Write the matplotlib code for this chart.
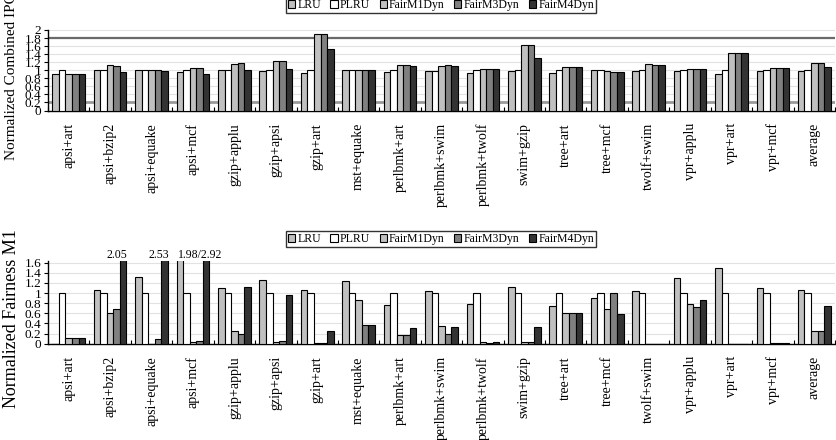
import matplotlib
matplotlib.use("Agg")
import matplotlib.pyplot as plt
import numpy as np
from matplotlib.patches import Patch

plt.rcParams['font.family'] = ['Liberation Serif', 'DejaVu Serif']

categories = ['apsi+art', 'apsi+bzip2', 'apsi+equake', 'apsi+mcf', 'gzip+applu',
              'gzip+apsi', 'gzip+art', 'mst+equake', 'perlbmk+art', 'perlbmk+swim',
              'perlbmk+twolf', 'swim+gzip', 'tree+art', 'tree+mcf', 'twolf+swim',
              'vpr+applu', 'vpr+art', 'vpr+mcf', 'average']
series = ['LRU', 'PLRU', 'FairM1Dyn', 'FairM3Dyn', 'FairM4Dyn']
colors = ['#c0c0c0', '#ffffff', '#c0c0c0', '#808080', '#333333']

# Normalized Combined IPC
lru_ipc  = [0.90, 1.00, 1.00, 0.95, 1.00, 0.97, 0.92, 1.00, 0.95, 0.99, 0.93, 0.97, 0.93, 1.00, 0.99, 0.98, 0.90, 0.99, 0.97]
plru_ipc = [1.00, 1.00, 1.00, 1.00, 1.00, 1.00, 1.00, 1.00, 1.00, 0.99, 1.00, 1.00, 1.00, 1.00, 1.00, 1.00, 1.00, 1.00, 1.00]
m1_ipc   = [0.90, 1.13, 1.00, 1.05, 1.15, 1.23, 1.91, 1.00, 1.13, 1.10, 1.02, 1.62, 1.07, 0.97, 1.15, 1.04, 1.43, 1.05, 1.17]
m3_ipc   = [0.90, 1.11, 1.00, 1.05, 1.18, 1.22, 1.91, 1.00, 1.13, 1.13, 1.02, 1.62, 1.07, 0.95, 1.14, 1.04, 1.43, 1.05, 1.17]
m4_ipc   = [0.90, 0.95, 0.97, 0.91, 1.00, 1.04, 1.54, 1.00, 1.10, 1.10, 1.02, 1.30, 1.07, 0.96, 1.14, 1.03, 1.43, 1.05, 1.08]

# Normalized Fairness M1
lru_f  = [0.00, 1.06, 1.32, 1.98, 1.10, 1.26, 1.07, 1.24, 0.76, 1.05, 0.78, 1.13, 0.745, 0.895, 1.05, 1.30, 1.49, 1.11, 1.07]
plru_f = [1.00, 1.00, 1.00, 1.00, 1.00, 1.00, 1.00, 1.00, 1.00, 1.00, 1.00, 1.00, 1.00, 1.00, 1.00, 1.00, 1.00, 1.00, 1.00]
m1_f   = [0.105, 0.61, 0.00, 0.03, 0.245, 0.04, 0.01, 0.86, 0.17, 0.35, 0.025, 0.025, 0.60, 0.68, 0.00, 0.78, 0.00, 0.01, 0.255]
m3_f   = [0.105, 0.685, 0.09, 0.055, 0.20, 0.055, 0.01, 0.375, 0.17, 0.185, 0.01, 0.025, 0.60, 0.995, 0.00, 0.725, 0.00, 0.01, 0.245]
m4_f   = [0.105, 2.05, 2.53, 2.92, 1.12, 0.96, 0.245, 0.375, 0.32, 0.335, 0.025, 0.335, 0.60, 0.58, 0.00, 0.87, 0.00, 0.01, 0.745]

off_scale_idx = [1, 2, 3]
off_scale_txt = ['2.05', '2.53', '1.98/2.92']

ipc_ticks = [0, 0.2, 0.4, 0.6, 0.8, 1, 1.2, 1.4, 1.6, 1.8, 2]
ipc_ticklabels = ['0', '0.2', '0.4', '0.6', '0.8', '1', '1.2', '1.4', '1.6', '1.8', '2']
f_ticks = [0, 0.2, 0.4, 0.6, 0.8, 1, 1.2, 1.4, 1.6]
f_ticklabels = ['0', '0.2', '0.4', '0.6', '0.8', '1', '1.2', '1.4', '1.6']

W, H = 836, 440
fig = plt.figure(figsize=(W / 100, H / 100), dpi=100)

def px_axes(x0, y0, x1, y1):
    return fig.add_axes([x0 / W, 1 - y1 / H, (x1 - x0) / W, (y1 - y0) / H])

n = len(categories)
x = np.arange(n)
bw = 0.158

def draw(ax, data, ylim, ticks, ticklabels):
    for k, (vals, c) in enumerate(zip(data, colors)):
        ax.bar(x + (k - 2) * bw, vals, width=bw, color=c, edgecolor='black',
               linewidth=0.8, zorder=3, label=series[k])
    ax.set_xlim(-0.5, n - 0.5)
    ax.set_ylim(*ylim)
    ax.set_yticks(ticks)
    ax.set_yticklabels(ticklabels, fontsize=9.5)
    for t in ticks:
        ax.axhline(t, color='#e2e2e2', lw=0.8, zorder=0)
    ax.set_xticks(x)
    ax.set_xticklabels(categories, rotation=90, fontsize=10, va='top')
    ax.tick_params(axis='x', length=0, pad=9)
    ax.set_xticks(np.arange(n + 1) - 0.5, minor=True)
    ax.tick_params(axis='x', which='minor', direction='in', length=3, width=0.8)
    ax.tick_params(axis='y', direction='out', length=3, width=0.8, pad=2)
    for s in ['top', 'right']:
        ax.spines[s].set_visible(False)
    for s in ['left', 'bottom']:
        ax.spines[s].set_linewidth(1.0)

ax1 = px_axes(48, 30, 835, 110.5)
draw(ax1, [lru_ipc, plru_ipc, m1_ipc, m3_ipc, m4_ipc], (0, 2), ipc_ticks, ipc_ticklabels)
ax1.axhline(0.2, color='#9a9a9a', lw=2.0, zorder=1)
ax1.axhline(1.8, color='#6a6a6a', lw=1.6, zorder=2)

ax2 = px_axes(48, 261.2, 835, 343.7)
draw(ax2, [lru_f, plru_f, m1_f, m3_f, m4_f], (0, 1.63), f_ticks, f_ticklabels)
for i, t in zip(off_scale_idx, off_scale_txt):
    ax2.text(i + 0.17, 1.75, t, ha='center', va='center', fontsize=8.5, clip_on=False)

fig.text(12 / W, 1 - 160 / H, 'Normalized Combined IPC', rotation=90, ha='center', va='bottom', fontsize=11)
fig.text(12 / W, 1 - 408 / H, 'Normalized Fairness M1', rotation=90, ha='center', va='bottom', fontsize=13)

handles = [Patch(facecolor=c, edgecolor='black', linewidth=0.8) for c in colors]
for yc in [5, 239]:
    leg = fig.legend(handles, series, loc='center', bbox_to_anchor=(441 / W, 1 - yc / H),
                     ncol=5, fontsize=8.5, frameon=True, fancybox=False, borderpad=0.2,
                     handlelength=0.6, handleheight=0.6, handletextpad=0.2,
                     columnspacing=0.8, borderaxespad=0)
    leg.get_frame().set_edgecolor('black')
    leg.get_frame().set_linewidth(1.0)

fig.savefig('out.png', dpi=100)
